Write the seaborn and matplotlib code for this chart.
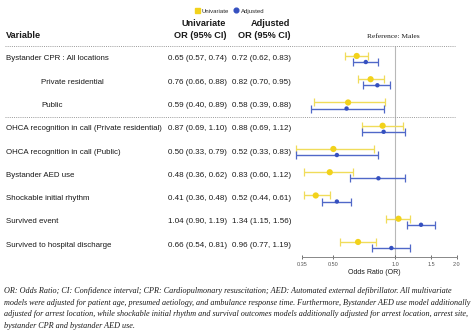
import numpy as np
import pandas as pd
import matplotlib
matplotlib.use("Agg")
import matplotlib.pyplot as plt
import matplotlib.transforms as mtransforms
from matplotlib.lines import Line2D
import seaborn as sns

# Outcomes (rows, top to bottom) and whether the label is indented
variables = [
    "Bystander CPR : All locations",
    "Private residential",
    "Public",
    "OHCA recognition in call (Private residential)",
    "OHCA recognition in call (Public)",
    "Bystander AED use",
    "Shockable initial rhythm",
    "Survived event",
    "Survived to hospital discharge",
]
indented = [False, True, True, False, False, False, False, False, False]

# Univariate odds ratios and 95% CI
uni_or = [0.65, 0.76, 0.59, 0.87, 0.50, 0.48, 0.41, 1.04, 0.66]
uni_lo = [0.57, 0.66, 0.40, 0.69, 0.33, 0.36, 0.36, 0.90, 0.54]
uni_hi = [0.74, 0.88, 0.89, 1.10, 0.79, 0.62, 0.48, 1.19, 0.81]

# Adjusted odds ratios and 95% CI
adj_or = [0.72, 0.82, 0.58, 0.88, 0.52, 0.83, 0.52, 1.34, 0.96]
adj_lo = [0.62, 0.70, 0.39, 0.69, 0.33, 0.60, 0.44, 1.15, 0.77]
adj_hi = [0.83, 0.95, 0.88, 1.12, 0.83, 1.12, 0.61, 1.56, 1.19]

x_ticks = [0.35, 0.50, 1.0, 1.5, 2.0]
x_tick_labels = ["0.35", "0.50", "1.0", "1.5", "2.0"]

footnote = (
    "OR: Odds Ratio; CI: Confidence interval; CPR: Cardiopulmonary resuscitation; AED: Automated external defibrillator. All multivariate\n"
    "models were adjusted for patient age, presumed aetiology, and ambulance response time. Furthermore, Bystander AED use model additionally\n"
    "adjusted for arrest location, while shockable initial rhythm and survival outcomes models additionally adjusted for arrest location, arrest site,\n"
    "bystander CPR and bystander AED use."
)

YELLOW = "#F2D21B"
YELLOW_CI = "#F0DC5A"
BLUE = "#3550C0"
BLUE_CI = "#5068C8"
TEXT = "#1a1a1a"

sns.set_theme(style="white")
plt.rcParams["font.family"] = ["Liberation Sans", "DejaVu Sans"]

W, H = 474, 334
fig = plt.figure(figsize=(W / 100, H / 100), dpi=100)

# Forest-plot panel on a log odds-ratio scale
x_min, x_max = 0.30, 2.10
px_per_log = 88.9
left_px = 395 + px_per_log * np.log(x_min)
right_px = 395 + px_per_log * np.log(x_max)
row0_px, row_step = 59.0, 23.25
top_px, bottom_px = 46.0, 257.0
y_top = (top_px - row0_px) / row_step
y_bot = (bottom_px - row0_px) / row_step

ax = fig.add_axes([left_px / W, 1 - bottom_px / H,
                   (right_px - left_px) / W, (bottom_px - top_px) / H])

n = len(variables)
rows = np.arange(n)
off = 0.13

df = pd.DataFrame({
    "row": np.concatenate([rows - off, rows + off]),
    "OR": uni_or + adj_or,
    "lo": uni_lo + adj_lo,
    "hi": uni_hi + adj_hi,
    "Model": ["Univariate"] * n + ["Adjusted"] * n,
})

ax.set_xscale("log")
ax.axvline(1.0, color="#b8b8b8", lw=0.8, zorder=0)

for model, ci_col in [("Univariate", YELLOW_CI), ("Adjusted", BLUE_CI)]:
    d = df[df["Model"] == model]
    ax.errorbar(d["OR"], d["row"],
                xerr=[d["OR"] - d["lo"], d["hi"] - d["OR"]],
                fmt="none", ecolor=ci_col, elinewidth=1.0,
                capsize=2.6, capthick=0.9, zorder=2)

sns.scatterplot(data=df, x="OR", y="row", hue="Model", size="Model",
                sizes={"Univariate": 20, "Adjusted": 10},
                palette={"Univariate": YELLOW, "Adjusted": BLUE},
                linewidth=0, legend=False, ax=ax, zorder=3)

ax.set_xlim(x_min, x_max)
ax.set_ylim(y_bot, y_top)
ax.set_yticks([])
ax.set_ylabel("")
ax.set_xticks(x_ticks)
ax.set_xticklabels(x_tick_labels)
ax.xaxis.set_minor_locator(matplotlib.ticker.NullLocator())
ax.tick_params(axis="x", labelsize=4, colors="#555555", length=2.5,
               width=0.6, direction="inout", pad=2, bottom=True)
ax.set_xlabel("Odds Ratio (OR)", fontsize=5, color=TEXT, labelpad=1.5)
for s in ["left", "right", "top"]:
    ax.spines[s].set_visible(False)
ax.spines["bottom"].set_color("#888888")
ax.spines["bottom"].set_linewidth(0.7)
ax.spines["bottom"].set_bounds(0.35, 2.0)
ax.patch.set_alpha(0)

# Table text aligned to the plot rows
trans = mtransforms.blended_transform_factory(fig.transFigure, ax.transData)
for i, (name, ind) in enumerate(zip(variables, indented)):
    x0 = (41 if ind else 6) / W
    fig.text(x0, i, name, transform=trans, fontsize=5.7, color=TEXT,
             va="center", ha="left")
    fig.text(168 / W, i, f"{uni_or[i]:.2f} ({uni_lo[i]:.2f}, {uni_hi[i]:.2f})",
             transform=trans, fontsize=5.8, color=TEXT, va="center", ha="left")
    fig.text(232 / W, i, f"{adj_or[i]:.2f} ({adj_lo[i]:.2f}, {adj_hi[i]:.2f})",
             transform=trans, fontsize=5.8, color=TEXT, va="center", ha="left")

# Dotted separators across the whole table
for yv in [y_top, 2.5]:
    fig.add_artist(Line2D([5 / W, 455 / W], [yv, yv], transform=trans,
                          color="#9a9a9a", lw=0.7, ls=(0, (1, 1.2))))

# Column headers
hdr = dict(fontsize=6.6, fontweight="bold", color=TEXT)
fig.text(6 / W, 1 - 35 / H, "Variable", ha="left", va="center", **hdr)
fig.text(226 / W, 1 - 24 / H, "Univariate", ha="right", va="center", **hdr)
fig.text(226 / W, 1 - 35 / H, "OR (95% CI)", ha="right", va="center", **hdr)
fig.text(290 / W, 1 - 24 / H, "Adjusted", ha="right", va="center", **hdr)
fig.text(290 / W, 1 - 35 / H, "OR (95% CI)", ha="right", va="center", **hdr)
fig.text(367 / W, 1 - 36 / H, "Reference: Males", ha="left", va="center",
         fontsize=5.4, color=TEXT, family=["Liberation Serif", "DejaVu Serif"])

# Legend
handles = [
    Line2D([], [], marker="s", ls="none", color=YELLOW, markersize=3.6),
    Line2D([], [], marker="o", ls="none", color=BLUE, markersize=3.4),
]
fig.legend(handles, ["Univariate", "Adjusted"], loc="center",
           bbox_to_anchor=(230 / W, 1 - 11 / H), ncol=2, frameon=False,
           fontsize=4.3, handlelength=0.6, handletextpad=0.5,
           columnspacing=0.9, borderpad=0)

# Footnote
fig.text(4 / W, 1 - 287 / H, footnote, ha="left", va="top", fontsize=5.85,
         style="italic", color=TEXT, linespacing=1.6,
         family=["Liberation Serif", "DejaVu Serif"])

fig.savefig("out.png", dpi=100)
